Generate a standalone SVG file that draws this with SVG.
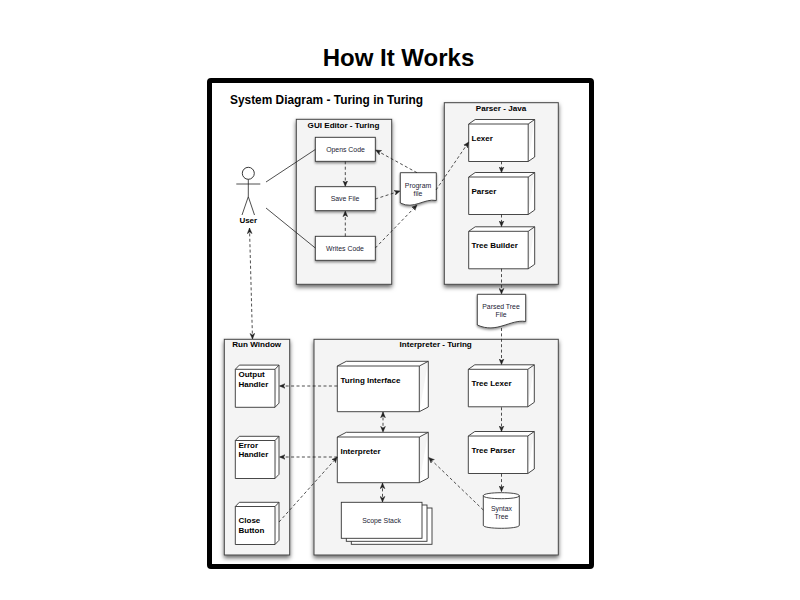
<svg xmlns="http://www.w3.org/2000/svg" width="800" height="600" viewBox="0 0 800 600">
<style>
text{font-family:"Liberation Sans",Arial,sans-serif;fill:#000}
.title{font-size:24px;font-weight:bold;text-anchor:middle}
.sub{font-size:11.9px;font-weight:bold}
.grp{font-size:8.1px;font-weight:bold;text-anchor:middle}
.b{font-size:8px;font-weight:bold}
.s{font-size:6.9px;text-anchor:middle;fill:#223}
.panel{fill:#f4f4f4;stroke:#444;stroke-width:1;filter:url(#sh)}
.box{fill:#fff;stroke:#333;stroke-width:.9}
.box2{fill:#fff;stroke:#333;stroke-width:.9;filter:url(#sh2)}
.ln{fill:none;stroke:#222;stroke-width:.8}
.d{fill:none;stroke:#222;stroke-width:.8;stroke-dasharray:3 2.4;marker-end:url(#a)}
.dd{fill:none;stroke:#222;stroke-width:.8;stroke-dasharray:3 2.4;marker-end:url(#a);marker-start:url(#as)}
</style>
<defs>
<filter id="sh" x="-10%" y="-10%" width="125%" height="125%"><feDropShadow dx="0" dy="2.5" stdDeviation="2" flood-color="#000" flood-opacity=".6"/></filter>
<filter id="sh2" x="-15%" y="-15%" width="130%" height="135%"><feDropShadow dx="0" dy="1.5" stdDeviation="1.2" flood-color="#000" flood-opacity=".45"/></filter>
<marker id="a" viewBox="0 0 8 8" refX="7.5" refY="4" markerWidth="6" markerHeight="6" markerUnits="userSpaceOnUse" orient="auto"><path d="M0 .8L7.5 4L0 7.2L2 4Z" fill="#222" stroke="#222" stroke-width=".6"/></marker>
<marker id="as" viewBox="0 0 8 8" refX="7.5" refY="4" markerWidth="6" markerHeight="6" markerUnits="userSpaceOnUse" orient="auto-start-reverse"><path d="M0 .8L7.5 4L0 7.2L2 4Z" fill="#222" stroke="#222" stroke-width=".6"/></marker>
<g id="c59"><path class="box" d="M0 0V37.5H59.5V0ZM0 0L6.5-4.5H66L59.5 0M66-4.5V33L59.5 37.5"/></g>
<g id="c40"><path class="box" d="M0 0V38H39.7V0ZM0 0L4-4.2H43.7L39.7 0M43.7-4.2V33.8L39.7 38"/></g>
<g id="c82"><path class="box" d="M0 0V45.7H82V0ZM0 0L9-4.7H91L82 0M91-4.7V41L82 45.7"/></g>
</defs>

<rect width="800" height="600" fill="#fff"/>
<text class="title" x="398.5" y="66">How It Works</text>
<rect x="209.5" y="80.5" width="382" height="486" rx="1.5" fill="#fff" stroke="#000" stroke-width="5"/>
<text class="sub" x="230" y="104">System Diagram - Turing in Turing</text>

<g id="gui-editor">
<rect class="panel" x="296.3" y="119.3" width="95.4" height="165"/>
<text class="grp" x="343.5" y="127.5">GUI Editor - Turing</text>
</g>
<g id="parser-java">
<rect class="panel" x="444.3" y="102.7" width="114" height="181.6"/>
<text class="grp" x="501" y="110.5">Parser - Java</text>
</g>
<g id="run-window">
<rect class="panel" x="224.3" y="339.3" width="65.4" height="215.7"/>
<text class="grp" x="256.7" y="347">Run Window</text>
</g>
<g id="interpreter-turing">
<rect class="panel" x="314" y="339.3" width="244.3" height="215.7"/>
<text class="grp" x="435.7" y="347">Interpreter - Turing</text>
</g>

<g id="user">
<circle cx="248.3" cy="173.3" r="6" fill="#fff" stroke="#222" stroke-width=".9"/>
<path class="ln" d="M248.3 179.3V196.7M236.3 184H260.3M248.3 196.7L242 215M248.3 196.7L254.5 215"/>
<text class="b" x="248.3" y="223" text-anchor="middle">User</text>
</g>

<g id="opens-code"><rect class="box2" x="315.3" y="137.3" width="60" height="24"/><text class="s" x="345.5" y="151.5">Opens Code</text></g>
<g id="save-file"><rect class="box2" x="315.3" y="186.7" width="60" height="24"/><text class="s" x="345" y="201">Save File</text></g>
<g id="writes-code"><rect class="box2" x="315.3" y="236.3" width="60" height="24"/><text class="s" x="345" y="250.5">Writes Code</text></g>

<g id="program-file">
<path class="box2" d="M400.3 172.7H436.3V200.5C424 198 414 210 400.3 203Z"/>
<text class="s" x="418" y="187.5">Program</text><text class="s" x="418" y="196">file</text>
</g>
<g id="parsed-tree-file">
<path class="box2" d="M477.3 294.3H525.7V321.5C510 319 497 334 477.3 325Z"/>
<text class="s" x="501" y="309">Parsed Tree</text><text class="s" x="501" y="317">File</text>
</g>

<g id="lexer"><use href="#c59" x="468.7" y="124"/><text class="b" x="471.5" y="140.5">Lexer</text></g>
<g id="parser"><use href="#c59" x="468.7" y="177"/><text class="b" x="471.5" y="193.5">Parser</text></g>
<g id="tree-builder"><use href="#c59" x="468.7" y="231.3"/><text class="b" x="471.5" y="248">Tree Builder</text></g>

<g id="output-handler"><use href="#c40" x="235.3" y="369.3"/><text class="b" x="238.5" y="377">Output</text><text class="b" x="238.5" y="386.5">Handler</text></g>
<g id="error-handler"><use href="#c40" x="235.3" y="440.5"/><text class="b" x="238.5" y="447.5">Error</text><text class="b" x="238.5" y="457">Handler</text></g>
<g id="close-button"><use href="#c40" x="235.3" y="506.5"/><text class="b" x="238.5" y="523">Close</text><text class="b" x="238.5" y="532.5">Button</text></g>

<g id="turing-interface"><use href="#c82" x="337.3" y="366"/><text class="b" x="340.5" y="383">Turing Interface</text></g>
<g id="interpreter"><use href="#c82" x="337.3" y="437"/><text class="b" x="340.5" y="453.5">Interpreter</text></g>

<g id="scope-stack">
<rect class="box" x="351.3" y="508" width="80.7" height="36.3"/>
<rect class="box" x="346.3" y="505" width="80.7" height="36.3"/>
<rect class="box" x="341.3" y="502.3" width="80.7" height="36"/>
<text class="s" x="381.5" y="523">Scope Stack</text>
</g>

<g id="tree-lexer"><use href="#c59" x="468.3" y="369.3"/><text class="b" x="471.5" y="386">Tree Lexer</text></g>
<g id="tree-parser"><use href="#c59" x="468.3" y="436"/><text class="b" x="471.5" y="452.5">Tree Parser</text></g>

<g id="syntax-tree">
<path class="box" d="M483.3 495.7V525.3C483.3 529.3 519.3 529.3 519.3 525.3V495.7C519.3 491.7 483.3 491.7 483.3 495.7C483.3 499.7 519.3 499.7 519.3 495.7"/>
<text class="s" x="501.5" y="511">Syntax</text><text class="s" x="501.5" y="519">Tree</text>
</g>

<g id="connectors">
<path class="ln" d="M266 182L315.3 149.5M266 208L315.3 248"/>
<path class="d" d="M345.3 161.3V186.3"/>
<path class="d" d="M345.3 236.3V211"/>
<path class="d" d="M375.3 199L400 191"/>
<path class="d" d="M417 172.7L375.6 150"/>
<path class="d" d="M375.3 248L417 205"/>
<path class="d" d="M436 190L468.7 142"/>
<path class="d" d="M501.5 161.3V172.5"/>
<path class="d" d="M501.5 214.5V226.5"/>
<path class="d" d="M501.5 268.7V294"/>
<path class="d" d="M501.5 328V364.5"/>
<path class="dd" d="M249.5 228L252.5 339"/>
<path class="d" d="M501.5 407.3V431.5"/>
<path class="d" d="M501.5 473.7V491.5"/>
<path class="d" d="M483.3 510L428.7 457.5"/>
<path class="d" d="M337.3 386H279.5"/>
<path class="d" d="M337.3 457H279.5"/>
<path class="d" d="M279 522L337.3 457"/>
<path class="dd" d="M383 412V432"/>
<path class="dd" d="M382.5 483V502"/>
</g>
</svg>
